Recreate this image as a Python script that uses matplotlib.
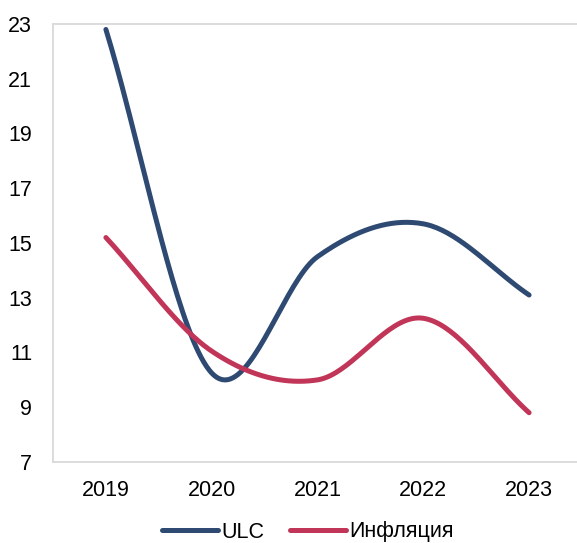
import numpy as np
import matplotlib
matplotlib.use("Agg")
import matplotlib.pyplot as plt
from matplotlib.lines import Line2D

plt.rcParams['font.family'] = ['Liberation Sans', 'DejaVu Sans']

years = ["2019", "2020", "2021", "2022", "2023"]
ulc = [22.8, 10.25, 14.5, 15.7, 13.1]
inflation = [15.2, 11.05, 10.0, 12.25, 8.8]
y_ticks = [7, 9, 11, 13, 15, 17, 19, 21, 23]

BLUE = "#2E4A72"
RED = "#C13558"
GRID = "#D9D9D9"


def smooth(values, steps=40):
    """Cardinal spline through the points; end tangents follow the end chords."""
    y = np.asarray(values, dtype=float)
    n = len(y)
    tang = np.empty(n)
    tang[1:-1] = (y[2:] - y[:-2]) / 2
    tang[0] = y[1] - y[0]
    tang[-1] = y[-1] - y[-2]
    xs, ys = [], []
    for i in range(n - 1):
        t = np.linspace(0, 1, steps, endpoint=(i == n - 2))
        h00 = 2 * t**3 - 3 * t**2 + 1
        h10 = t**3 - 2 * t**2 + t
        h01 = -2 * t**3 + 3 * t**2
        h11 = t**3 - t**2
        ys.append(h00 * y[i] + h10 * tang[i] + h01 * y[i + 1] + h11 * tang[i + 1])
        xs.append(i + t)
    return np.concatenate(xs), np.concatenate(ys)


W, H = 577, 543
fig = plt.figure(figsize=(W / 100, H / 100), dpi=100)
ax = fig.add_axes([53 / W, (H - 462) / H, 529 / W, 438 / H])

for vals, col in ((ulc, BLUE), (inflation, RED)):
    sx, sy = smooth(vals)
    ax.plot(sx, sy, color=col, lw=3.6, solid_capstyle='round', zorder=3)

ax.set_xlim(-0.5, len(years) - 0.5)
ax.set_ylim(7, 23)
ax.set_xticks(range(len(years)))
ax.set_xticklabels(years)
ax.set_yticks(y_ticks)
ax.tick_params(axis='both', length=0, labelsize=15.5, colors='#000000')
ax.tick_params(axis='y', pad=15)
ax.tick_params(axis='x', pad=13)

for side in ('left', 'top', 'bottom'):
    ax.spines[side].set_color(GRID)
    ax.spines[side].set_linewidth(1.3)
ax.spines['right'].set_visible(False)

handles = [Line2D([], [], color=BLUE, lw=3.6, solid_capstyle='round'),
           Line2D([], [], color=RED, lw=3.6, solid_capstyle='round')]
fig.legend(handles, ["ULC", "Инфляция"], loc='center', ncol=2,
           bbox_to_anchor=(308 / W, 1 - 532 / H), frameon=False,
           fontsize=15.5, handlelength=2.6, handletextpad=0.15,
           columnspacing=1.2)

fig.savefig("out.png", dpi=100)
